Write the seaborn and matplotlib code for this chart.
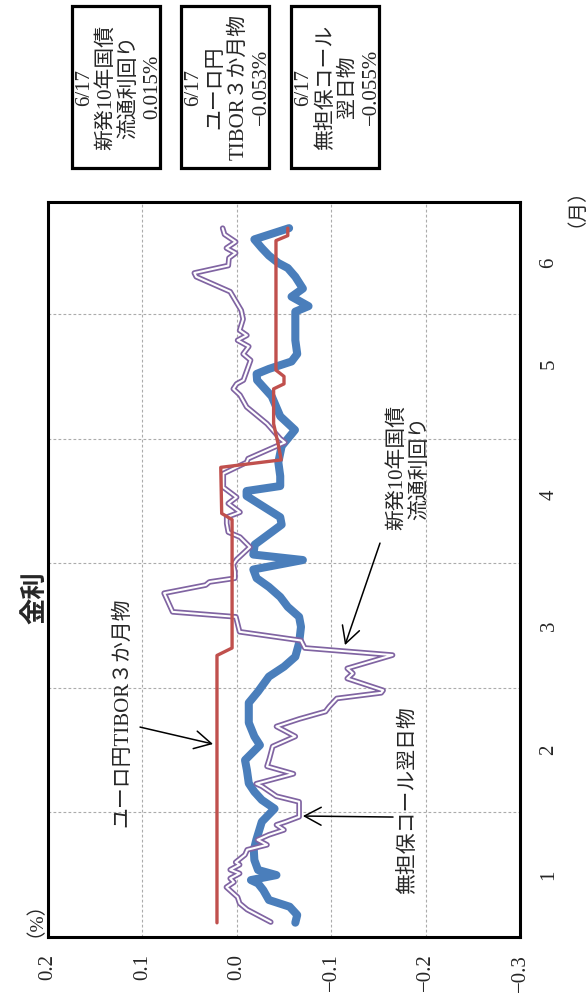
import matplotlib
matplotlib.use("Agg")
import matplotlib.pyplot as plt
import pandas as pd
import seaborn as sns
from matplotlib.patches import Rectangle

# time is in month position: 1.0 = start of Jan, 2.0 = start of Feb, ...
call_t = [1.115, 1.177, 1.243, 1.297, 1.377, 1.430, 1.457, 1.497, 1.538, 1.618,
          1.698, 1.778, 1.925, 2.030, 2.100, 2.166, 2.233, 2.340, 2.420, 2.540,
          2.610, 2.720, 2.880, 2.970, 3.090, 3.170, 3.250, 3.360, 3.490, 3.570,
          3.650, 3.730, 3.810, 3.880, 3.950, 4.026, 4.070, 4.150, 4.310, 4.370,
          4.540, 4.580, 4.620, 4.700, 4.810, 4.940, 5.070, 5.180, 5.340, 5.470,
          5.520, 5.560, 5.620, 5.680, 5.790, 5.925, 6.020, 6.064, 6.140, 6.205,
          6.300, 6.370, 6.410, 6.470, 6.530, 6.600, 6.690]
call_v = [-0.062, -0.064, -0.056, -0.034, -0.028, -0.0225, -0.015, -0.042, -0.0225, -0.0186,
          -0.018, -0.0206, -0.0265, -0.040, -0.0265, -0.0186, -0.0127, -0.0107, -0.0087, -0.0245,
          -0.0186, -0.0127, -0.0127, -0.0225, -0.034, -0.050, -0.062, -0.066, -0.068, -0.066,
          -0.054, -0.046, -0.034, -0.021, -0.0175, -0.070, -0.0175, -0.019, -0.0475, -0.046,
          -0.0104, -0.0104, -0.046, -0.046, -0.044, -0.0475, -0.0616, -0.046, -0.037, -0.0215,
          -0.021, -0.034, -0.058, -0.064, -0.062, -0.062, -0.062, -0.076, -0.058, -0.070,
          -0.062, -0.054, -0.044, -0.034, -0.0265, -0.0186, -0.0554]

jgb_t = [1.12, 1.22, 1.27, 1.32, 1.40, 1.44, 1.47, 1.51, 1.54, 1.58,
         1.60, 1.66, 1.70, 1.74, 1.78, 1.82, 1.86, 1.90, 1.925, 1.965,
         2.085, 2.13, 2.21, 2.23, 2.31, 2.37, 2.43, 2.53, 2.61, 2.69,
         2.71, 2.75, 2.81, 2.85, 2.915, 2.96, 2.98, 3.075, 3.116, 3.156,
         3.263, 3.32, 3.38, 3.45, 3.57, 3.61, 3.76, 3.825, 3.85, 3.88,
         3.93, 3.99, 4.03, 4.13, 4.21, 4.25, 4.32, 4.37, 4.41, 4.48,
         4.53, 4.61, 4.72, 4.81, 4.84, 4.97, 5.00, 5.12, 5.255, 5.35,
         5.40, 5.44, 5.47, 5.63, 5.68, 5.74, 5.79, 5.83, 5.87, 5.96,
         6.03, 6.18, 6.30, 6.33, 6.39, 6.45, 6.49, 6.53, 6.58, 6.64, 6.69]
jgb_v = [-0.036, -0.011, -0.003, -0.0008, 0.011, 0.003, 0.007, -0.003, 0.007, -0.003,
         0.0012, -0.0087, -0.011, -0.032, -0.022, -0.034, -0.050, -0.042, -0.052, -0.066,
         -0.066, -0.042, -0.0265, -0.0206, -0.060, -0.032, -0.0345, -0.038, -0.062, -0.042,
         -0.050, -0.066, -0.094, -0.098, -0.106, -0.153, -0.155, -0.117, -0.123, -0.117,
         -0.165, -0.072, -0.068, -0.003, 0.001, 0.068, 0.077, 0.033, 0.029, 0.002,
         0.002, 0.0037, 0.0002, -0.014, -0.0034, 0.009, 0.0107, 0.0107, -0.0034, 0.009,
         0.0002, 0.0143, 0.0143, -0.0104, -0.012, -0.051, -0.046, -0.032, -0.0104, -0.0034,
         0.0037, 0.0002, -0.007, -0.0146, -0.0067, -0.0127, -0.0008, -0.0107, -0.003, -0.0067,
         -0.0047, 0.007, 0.043, 0.045, 0.009, 0.0083, 0.0012, 0.011, 0.0012, 0.013, 0.015]

tibor_t = [1.114, 3.26, 3.29, 3.32, 4.35, 4.40, 4.77, 4.83, 4.95, 5.12,
           5.40, 5.44, 5.50, 5.55, 6.59, 6.63, 6.69]
tibor_v = [0.021, 0.021, 0.013, 0.005, 0.005, 0.016, 0.017, -0.047, -0.044, -0.039,
           -0.039, -0.050, -0.050, -0.0415, -0.0415, -0.054, -0.054]

value_ticks = [0.2, 0.1, 0.0, -0.1, -0.2, -0.3]
value_labels = ["0.2", "0.1", "0.0", "−0.1", "−0.2", "−0.3"]
month_bounds = [2, 3, 4, 5, 6]
month_label_pos = [1.5, 2.5, 3.5, 4.55, 5.6, 6.41]
month_labels = ["1", "2", "3", "4", "5", "6"]

box_lines = [["6/17", "新発10年国債", "流通利回り", "0.015%"],
             ["6/17", "ユーロ円", "TIBOR３か月物", "−0.053%"],
             ["6/17", "無担保コール", "翌日物", "−0.055%"]]

sns.set_theme(style="white")
plt.rcParams['font.family'] = ['Liberation Serif', 'Noto Sans CJK JP']

fig = plt.figure(figsize=(5.86, 9.98), dpi=100)
ax = fig.add_axes([48 / 586, 61 / 998, 472 / 586, 735 / 998])

call = pd.DataFrame({"t": call_t, "v": call_v})
jgb = pd.DataFrame({"t": jgb_t, "v": jgb_v})
tibor = pd.DataFrame({"t": tibor_t, "v": tibor_v})

sns.lineplot(data=call, x="v", y="t", sort=False, estimator=None, orient="y",
             color="#4a7ebb", linewidth=5.8, solid_capstyle="round",
             solid_joinstyle="round", ax=ax, zorder=3)
sns.lineplot(data=jgb, x="v", y="t", sort=False, estimator=None, orient="y",
             color="#8064a2", linewidth=4.0, ax=ax, zorder=4)
sns.lineplot(data=jgb, x="v", y="t", sort=False, estimator=None, orient="y",
             color="white", linewidth=1.5, ax=ax, zorder=4)
sns.lineplot(data=tibor, x="v", y="t", sort=False, estimator=None, orient="y",
             color="#c0504d", linewidth=2.4, ax=ax, zorder=5)

ax.set_xlim(0.2, -0.3)
ax.set_ylim(1.0, 6.9)
ax.set_xticks(value_ticks)
ax.set_xticklabels(value_labels, rotation=90, fontsize=15)
ax.set_yticks(month_bounds)
ax.set_yticklabels([])
ax.set_yticks(month_label_pos, minor=True)
ax.set_yticklabels(month_labels, minor=True, rotation=90, fontsize=15, va="center")
ax.yaxis.tick_right()
ax.tick_params(axis="x", length=0, pad=12)
ax.tick_params(axis="y", which="both", length=0, pad=14)
ax.set_xlabel("")
ax.set_ylabel("")
ax.grid(True, color="#ababab", linestyle=(0, (2.5, 2)), linewidth=0.8)
ax.set_axisbelow(True)
for s in ax.spines.values():
    s.set_linewidth(2.2)
    s.set_color("black")

arrow = dict(arrowstyle="->,head_length=0.8,head_width=0.43", color="black",
             lw=1.1, mutation_scale=15, shrinkA=0, shrinkB=0)
ax.annotate("", xy=(-0.1146, 3.343), xytext=(-0.1517, 4.162), arrowprops=arrow)
ax.annotate("", xy=(0.0252, 2.549), xytext=(0.1025, 2.685), arrowprops=arrow)
ax.annotate("", xy=(-0.070, 1.971), xytext=(-0.1655, 1.963), arrowprops=arrow)

# rotated lines are anchored on their baseline so every line sits at the same step
rot = dict(rotation=90, rotation_mode="anchor", ha="center", va="baseline", fontsize=15)
ax.text(-0.175, 4.77, "新発10年国債", **rot)
ax.text(-0.1994, 4.77, "流通利回り", **rot)
ax.text(0.1206, 2.806, "ユーロ円TIBOR３か月物", rotation=90, ha="center", va="center",
        fontsize=15)
ax.text(-0.181, 2.10, "無担保コール翌日物", rotation=90, ha="center", va="center",
        fontsize=15)

fig.text(35 / 586, 1 - 598 / 998, "金利", rotation=90, ha="center", va="center",
         fontsize=19, fontweight="bold", family="Noto Sans CJK JP")
fig.text(25 / 586, 1 - 909 / 998, "（%）", rotation=90, ha="center", va="center",
         fontsize=14)
fig.text(566 / 586, 1 - 198 / 998, "（月）", rotation=90, ha="center", va="center",
         fontsize=14)

box_left = [72, 181, 291]
line_step = 22.7
for bx, lines in zip(box_left, box_lines):
    fig.add_artist(Rectangle((bx / 586, 1 - 168 / 998), 88 / 586, 162 / 998,
                             transform=fig.transFigure, fill=False,
                             edgecolor="black", linewidth=2.3))
    n = len(lines)
    for i, line in enumerate(lines):
        base_x = bx + 44 + (i - (n - 1) / 2) * line_step + 7
        fig.text(base_x / 586, 1 - 87 / 998, line, **rot)

fig.savefig("out.png", dpi=100, facecolor="white")
